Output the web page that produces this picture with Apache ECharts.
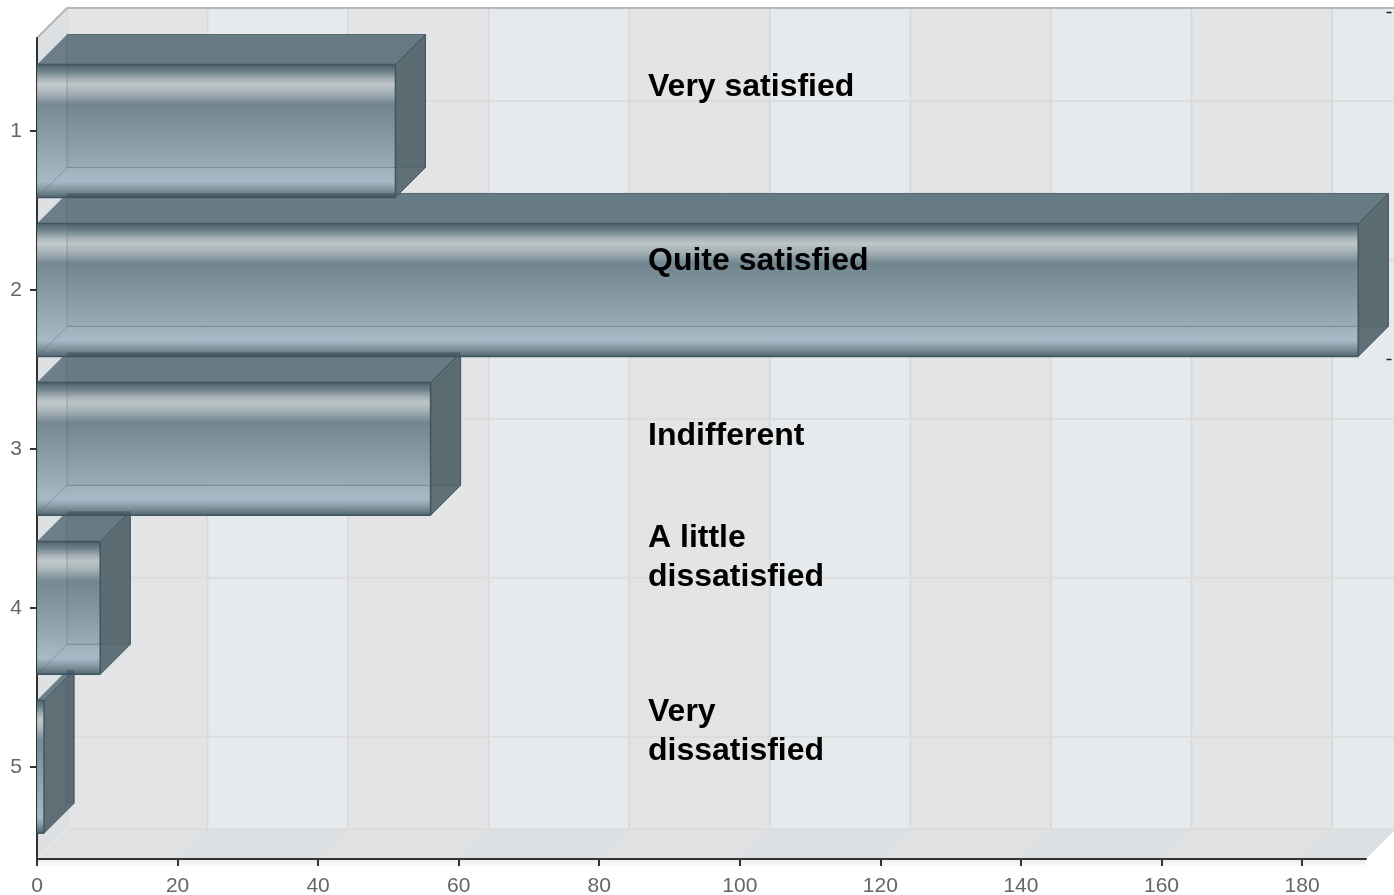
<!DOCTYPE html>
<html>
<head>
<meta charset="utf-8">
<title>Satisfaction</title>
<script src="https://cdn.jsdelivr.net/npm/echarts@6/dist/echarts.min.js"></script>
<style>
  html, body { margin: 0; padding: 0; background: #fff; overflow: hidden; }
  #main { width: 1394px; height: 895px; filter: blur(0.5px); }
</style>
</head>
<body>
<div id="main"></div>
<script>
// chart data
const rows = [1, 2, 3, 4, 5]
const values = [51, 188, 56, 9, 1]
const legendNames = ['Very satisfied', 'Quite satisfied', 'Indifferent', 'A little\ndissatisfied', 'Very\ndissatisfied']
const xTicks = [0, 20, 40, 60, 80, 100, 120, 140, 160, 180]

// axis range and 3d look
const xMax = 189.1
const yMin = 0.415
const yMax = 5.58
const barHalf = 0.418
const depth = 30
const wallBands = xTicks.map((t, i) => [t, i < xTicks.length - 1 ? xTicks[i + 1] : xMax, i])
const barData = rows.map((r, i) => [values[i], r]).reverse() // upper bars sit in front
const overlapData = rows.map((r, i) => [values[i], r, i > 0 ? values[i - 1] : 0])

const chart = echarts.init(document.getElementById('main'))

function poly(points, fill, extra) {
  return Object.assign({
    type: 'polygon',
    shape: { points: points },
    style: { fill: fill, stroke: null }
  }, extra || {})
}

function seg(p1, p2, color, width) {
  return {
    type: 'line',
    shape: { x1: p1[0], y1: p1[1], x2: p2[0], y2: p2[1] },
    style: { stroke: color, lineWidth: width, fill: null }
  }
}

// one stripe of the back wall and floor
function renderWall(params, api) {
  const from = api.value(0)
  const to = api.value(1)
  const odd = api.value(2) % 2 === 1
  const a = api.coord([from, yMax])
  const b = api.coord([to, yMax])
  const topY = api.coord([0, yMin])[1]
  const kids = [
    poly([[a[0] + depth, topY - depth], [b[0] + depth, topY - depth], [b[0] + depth, a[1] - depth], [a[0] + depth, a[1] - depth]], odd ? '#e6eaed' : '#e3e4e6'),
    poly([[a[0] + depth, a[1] - depth], [b[0] + depth, b[1] - depth], b, a], odd ? '#dce0e3' : '#e0e1e3'),
    seg([a[0] + depth, topY - depth], [a[0] + depth, a[1] - depth], '#d9dadb', 2)
  ]
  if (from > 0) kids.push(seg(a, [a[0] + depth, a[1] - depth], '#dadcde', 1))
  return { type: 'group', children: kids }
}

// left wall, top edge and the horizontal lines on the back wall
function renderFrame(params, api) {
  const tl = api.coord([0, yMin])
  const bl = api.coord([0, yMax])
  const tr = api.coord([xMax, yMin])
  const br = api.coord([xMax, yMax])
  const shade = new echarts.graphic.LinearGradient(0, 0, 0, 1, [
    { offset: 0, color: '#e9e9e9' },
    { offset: 1, color: '#ffffff' }
  ])
  const kids = [
    poly([bl, br, [br[0], br[1] + 8], [bl[0], bl[1] + 8]], shade),
    poly([tl, [tl[0] + depth, tl[1] - depth], [bl[0] + depth, bl[1] - depth], bl], '#dde1e4')
  ]
  rows.forEach(r => {
    const p = api.coord([0, r])
    kids.push(seg([p[0] + depth, p[1] - depth], [tr[0] + depth, p[1] - depth], '#dcdcdc', 2))
  })
  kids.push(seg([bl[0] + depth, bl[1] - depth], [tr[0] + depth, bl[1] - depth], '#dcdcdc', 2))
  kids.push(seg(tl, [tl[0] + depth, tl[1] - depth], '#b4b6b8', 2))
  kids.push(seg([tl[0] + depth, tl[1] - depth], [tr[0] + depth, tl[1] - depth], '#b4b6b8', 2))
  return { type: 'group', children: kids }
}

function renderBar(params, api) {
  const v = api.value(0)
  const r = api.value(1)
  const lt = api.coord([0, r - barHalf])
  const rt = api.coord([v, r - barHalf])
  const lb = api.coord([0, r + barHalf])
  const rb = api.coord([v, r + barHalf])
  const d = depth
  const up = p => [p[0] + d, p[1] - d]
  const edge = '#3f5660'
  const front = new echarts.graphic.LinearGradient(0, 0, 0, 1, [
    { offset: 0, color: '#4a606a' },
    { offset: 0.05, color: '#6a7e87' },
    { offset: 0.11, color: '#a8b2b6' },
    { offset: 0.15, color: '#c0c8ca' },
    { offset: 0.21, color: '#aab5b9' },
    { offset: 0.3, color: '#728690' },
    { offset: 0.55, color: '#879ba5' },
    { offset: 0.78, color: '#9cafba' },
    { offset: 0.88, color: '#a4b8c5' },
    { offset: 0.94, color: '#7f929d' },
    { offset: 1, color: '#4c626c' }
  ])
  const kids = [
    poly([up(lt), up(rt), up(rb), up(lb)], '#6a7f8a'),
    poly([lt, up(lt), up(rt), rt], '#677b85', { style: { fill: '#677b85', opacity: 0.97 } }),
    poly([rt, up(rt), up(rb), rb], '#5b6b72', { style: { fill: '#5b6b72', opacity: 0.97 } }),
    poly([lt, rt, rb, lb], front, { style: { fill: front, opacity: 0.96 } }),
    // hidden edges show through the glass
    seg(up(lt), up(lb), 'rgba(70,95,108,0.35)', 1),
    seg(up(lb), up(rb), 'rgba(70,95,108,0.45)', 1),
    seg(lb, up(lb), 'rgba(70,95,108,0.35)', 1),
    seg(up(rt), up(rb), 'rgba(63,86,96,0.4)', 1),
    // visible edges
    seg(lt, rt, edge, 1.5),
    seg(lb, rb, edge, 1.5),
    seg(rt, rb, edge, 1.5),
    seg(rt, up(rt), edge, 1),
    seg(rb, up(rb), edge, 1),
    seg(up(rt), up(rb), edge, 1),
    seg(up(lt), up(rt), '#55696f', 1)
  ]
  return { type: 'group', children: kids }
}

// back edge of a bar shows through the bottom of the bar above it
function renderOverlap(params, api) {
  const v = api.value(0)
  const r = api.value(1)
  const prev = api.value(2)
  if (prev <= 0) return { type: 'group', children: [] }
  const a = api.coord([0, r - barHalf])
  const b = api.coord([Math.min(v, prev), r - 1 + barHalf])
  const right = Math.min(api.coord([v, r])[0] + depth, api.coord([prev, r])[0])
  return {
    type: 'rect',
    shape: { x: a[0] + depth, y: a[1] - depth, width: right - a[0] - depth, height: b[1] - a[1] + depth },
    style: { fill: 'rgba(58,82,92,0.55)' }
  }
}

const labelTop = [87, 261, 436, 557, 731]

const option = {
  backgroundColor: '#fff',
  animation: false,
  grid: { left: 37, right: 28, top: 38, bottom: 36, containLabel: false, outerBoundsMode: 'none' },
  xAxis: {
    type: 'value',
    position: 'bottom',
    min: 0,
    max: xMax,
    axisLine: { show: true, onZero: false, lineStyle: { color: '#333', width: 2 } },
    axisTick: { show: true, length: 7, customValues: xTicks, lineStyle: { color: '#333', width: 2 } },
    axisLabel: { customValues: xTicks, color: '#666', fontFamily: 'Liberation Sans', fontSize: 21, margin: 17 },
    splitLine: { show: false }
  },
  yAxis: {
    type: 'value',
    inverse: true,
    min: yMin,
    max: yMax,
    axisLine: { show: true, onZero: false, lineStyle: { color: '#333', width: 2 } },
    axisTick: { show: true, length: 7, customValues: rows, lineStyle: { color: '#333', width: 2 } },
    axisLabel: { customValues: rows, color: '#666', fontFamily: 'Liberation Sans', fontSize: 21, margin: 15 },
    splitLine: { show: false }
  },
  series: [
    { type: 'custom', name: 'walls', z: -2, clip: false, silent: true, renderItem: renderWall, encode: { x: [0, 1], y: -1 }, data: wallBands },
    { type: 'custom', name: 'frame', z: -1, clip: false, silent: true, renderItem: renderFrame, data: [[0, 0]] },
    { type: 'custom', name: 'bars', z: 3, clip: false, renderItem: renderBar, encode: { x: 0, y: 1 }, data: barData },
    { type: 'custom', name: 'overlap', z: 4, clip: false, silent: true, renderItem: renderOverlap, encode: { x: 0, y: 1 }, data: overlapData }
  ],
  graphic: legendNames.map((name, i) => ({
    type: 'text',
    left: 648,
    top: labelTop[i] - (name.includes('\n') ? 38 : 19),
    z: 10,
    style: {
      text: name,
      fill: '#000',
      font: 'bold 32px "Liberation Sans"',
      lineHeight: 38.5
    }
  })).concat([
    // stray tick marks at the right edge of the picture
    { type: 'line', right: 0, top: 10, shape: { x1: 0, y1: 0, x2: 5, y2: 0 }, style: { stroke: '#222', lineWidth: 1.5 } },
    { type: 'line', right: 0, top: 357, shape: { x1: 0, y1: 0, x2: 5, y2: 0 }, style: { stroke: '#222', lineWidth: 1.5 } }
  ])
}

chart.setOption(option)
</script>
</body>
</html>
